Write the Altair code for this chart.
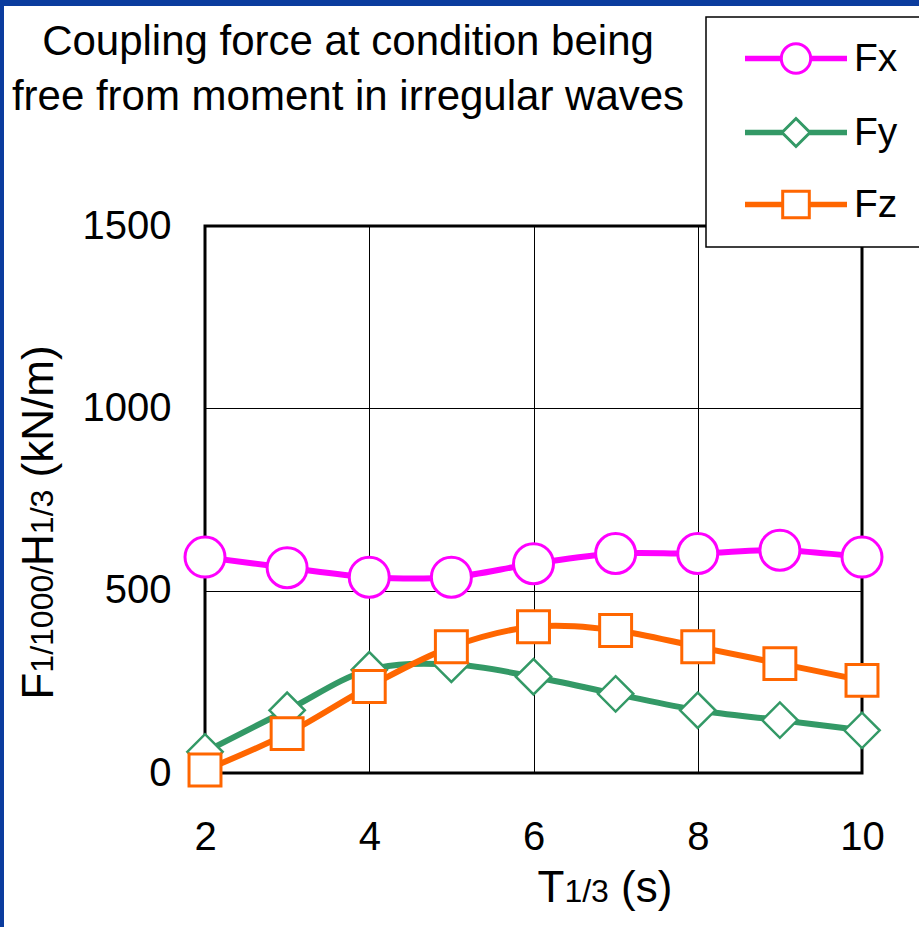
import altair as alt
import pandas as pd

# ---------------- data ----------------
T13 = [2, 3, 4, 5, 6, 7, 8, 9, 10]
FX = [592, 563, 537, 537, 574, 602, 602, 611, 592]
FY = [58, 172, 283, 298, 264, 217, 172, 145, 117]
FZ = [8, 108, 237, 346, 401, 391, 346, 300, 254]
SERIES = ["Fx", "Fy", "Fz"]
COLORS = ["#FF00FF", "#339966", "#FF6600"]
X_TICKS = [2, 4, 6, 8, 10]
Y_TICKS = [0, 500, 1000, 1500]
TITLE_LINES = ["Coupling force at condition being", "free from moment in irregular waves"]
X_TITLE = [("T", "big"), ("1/3", "small"), (" (s)", "big")]
Y_TITLE = [("F", "big"), ("1/1000/", "small"), ("H", "big"), ("1/3", "small"), (" (kN/m)", "big")]

rows = []
for name, vals in zip(SERIES, [FX, FY, FZ]):
    for t, v in zip(T13, vals):
        rows.append({"T": t, "F": v, "series": name})
df = pd.DataFrame(rows)
one = pd.DataFrame({"k": [0]})

# ---------------- layout ----------------
FONT = "Liberation Sans, Arial, sans-serif"
L, TOP, W, H = 205, 226, 657, 547
BIG, SMALL = 44, 32
WID = {"0": .556, "1": .556, "3": .556, "/": .278, " ": .278, "(": .333, ")": .333,
       "F": .611, "H": .722, "T": .611, "k": .5, "N": .722, "m": .833, "s": .5}


def twidth(s, size):
    return sum(WID.get(c, .55) for c in s) * size


# legend symbol paths (units: sqrt(size)/2 px)
SYM_SIZE = 784
S = (SYM_SIZE ** 0.5) / 2
cx = 48.5 / S
LE, RE = cx - 49.5 / S, cx + 49.5 / S
th = 1.2 / S


def seg(r):
    return (f"M{LE:.3f},{-th:.3f}H{cx - r:.3f}V{th:.3f}H{LE:.3f}Z"
            f"M{cx + r:.3f},{-th:.3f}H{RE:.3f}V{th:.3f}H{cx + r:.3f}Z")


rc, rd, rs = 1.05, 1.0, 0.95
P_FX = seg(rc) + (f"M{cx - rc:.3f},0A{rc},{rc} 0 1,0 {cx + rc:.3f},0"
                  f"A{rc},{rc} 0 1,0 {cx - rc:.3f},0Z")
P_FY = seg(rd) + f"M{cx - rd:.3f},0L{cx:.3f},{-rd:.3f}L{cx + rd:.3f},0L{cx:.3f},{rd:.3f}Z"
P_FZ = seg(rs) + f"M{cx - rs:.3f},{-rs:.3f}H{cx + rs:.3f}V{rs:.3f}H{cx - rs:.3f}Z"


def make_legend():
    return alt.Legend(
        title=None, orient="none", legendX=706 - L, legendY=17 - TOP,
        fillColor="white", strokeColor="black", padding=22,
        symbolSize=SYM_SIZE, symbolStrokeWidth=3, labelOffset=87,
        symbolFillColor="white", symbolOpacity=1,
        labelFont=FONT, labelFontSize=39, labelColor="black", rowPadding=32,
        labelExpr="datum.label + '      '",
    )


color = alt.Color("series:N", scale=alt.Scale(domain=SERIES, range=COLORS), legend=make_legend())
shape = alt.Shape("series:N", scale=alt.Scale(domain=SERIES, range=[P_FX, P_FY, P_FZ]),
                  legend=make_legend())

xenc = alt.X("T:Q", scale=alt.Scale(domain=[2, 10], nice=False, zero=False),
             axis=alt.Axis(values=X_TICKS, title=None, grid=True, domain=False, ticks=False,
                           format="d",
                           labelFont=FONT, labelFontSize=40, labelColor="black",
                           labelPadding=44, gridColor="black", gridWidth=1, gridOpacity=1,
                           labelFlush=False))
yenc = alt.Y("F:Q", scale=alt.Scale(domain=[0, 1500], nice=False),
             axis=alt.Axis(values=Y_TICKS, title=None, grid=True, domain=False, ticks=False,
                           format="d",
                           labelFont=FONT, labelFontSize=40, labelColor="black",
                           labelPadding=34, gridColor="black", gridWidth=1, gridOpacity=1,
                           labelFlush=False))

base = alt.Chart(df)
# invisible layer that only feeds the legend (line + marker symbols)
legend_feed = base.mark_point(opacity=0, filled=False, size=SYM_SIZE).encode(
    x=xenc, y=yenc, color=color, shape=shape)

lines = base.mark_line(strokeWidth=6, interpolate="catmull-rom").encode(
    x=xenc, y=yenc, color=color, detail="series:N")

marker_specs = {"Fx": ("circle", 1600, 3), "Fy": ("diamond", 1250, 2.5), "Fz": ("square", 1020, 3)}
point_layers = []
for name in SERIES:
    shp, sz, sw = marker_specs[name]
    point_layers.append(
        base.transform_filter(alt.datum.series == name).mark_point(
            shape=shp, size=sz, filled=False, fill="white", fillOpacity=1,
            strokeWidth=sw, opacity=1).encode(x=xenc, y=yenc, color=color))

# frame bands
frame_c = "#0B3C9E"
top_band = alt.Chart(one).mark_rect(color=frame_c).encode(
    x=alt.value(-L), x2=alt.value(919 - L), y=alt.value(-TOP), y2=alt.value(6 - TOP))
left_band = alt.Chart(one).mark_rect(color=frame_c).encode(
    x=alt.value(-L), x2=alt.value(4 - L), y=alt.value(-TOP), y2=alt.value(927 - TOP))

# title
title_layers = []
for i, line in enumerate(TITLE_LINES):
    title_layers.append(alt.Chart(one).mark_text(
        align="center", baseline="alphabetic", font=FONT, fontSize=42, color="black").encode(
        x=alt.value(348 - L), y=alt.value([55, 110][i] - TOP), text=alt.value(line)))

# x title pieces
xt_layers = []
pos = 537.5
for txt, kind in X_TITLE:
    fs = BIG if kind == "big" else SMALL
    lead = len(txt) - len(txt.lstrip(" "))
    p = pos + twidth(" " * lead, fs)
    xt_layers.append(alt.Chart(one).mark_text(
        align="left", baseline="alphabetic", font=FONT, fontSize=fs, color="black").encode(
        x=alt.value(p - L), y=alt.value(902 - TOP), text=alt.value(txt.lstrip(" "))))
    pos += twidth(txt, fs)

# y title pieces
yt_layers = []
total = sum(twidth(t, BIG if k == "big" else SMALL) for t, k in Y_TITLE)
pos = (340 + 705) / 2 + total / 2
for txt, kind in Y_TITLE:
    fs = BIG if kind == "big" else SMALL
    lead = len(txt) - len(txt.lstrip(" "))
    p = pos - twidth(" " * lead, fs)
    yt_layers.append(alt.Chart(one).mark_text(
        align="left", baseline="alphabetic", font=FONT, fontSize=fs, color="black",
        angle=270).encode(
        x=alt.value(53 - L), y=alt.value(p - TOP), text=alt.value(txt.lstrip(" "))))
    pos -= twidth(txt, fs)

chart = alt.layer(
    top_band, left_band, legend_feed, lines, *point_layers, *title_layers, *xt_layers, *yt_layers
).properties(
    width=W, height=H,
    autosize=alt.AutoSizeParams(type="none"),
    padding={"left": L, "top": TOP, "right": 919 - L - W, "bottom": 927 - TOP - H},
    background="white",
).configure_view(stroke="black", strokeWidth=3).configure_legend(strokeWidth=1.5)

chart.save("out.html", embed_options={"renderer": "svg", "actions": False})
